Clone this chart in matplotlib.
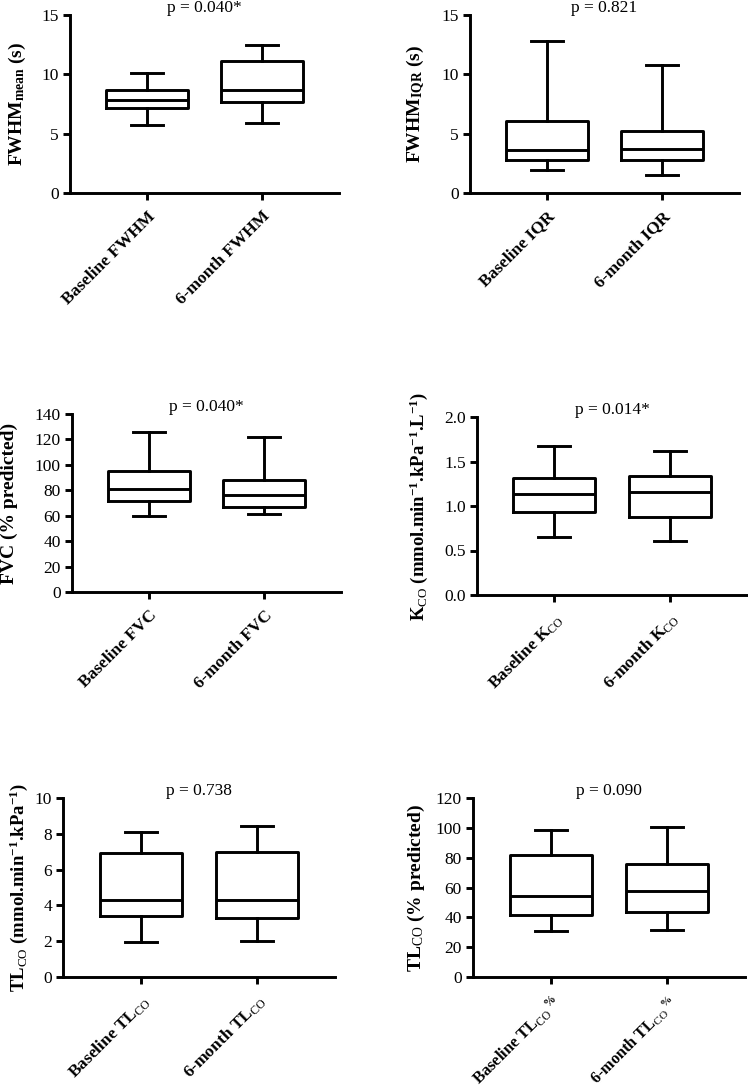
import matplotlib
matplotlib.use('Agg')
import matplotlib.pyplot as plt
from matplotlib.ticker import FormatStrFormatter

plt.rcParams['font.family'] = ['Liberation Serif', 'DejaVu Serif']
plt.rcParams['mathtext.fontset'] = 'custom'
plt.rcParams['mathtext.rm'] = 'Liberation Serif'
plt.rcParams['mathtext.bf'] = 'Liberation Serif:bold'
plt.rcParams['mathtext.it'] = 'Liberation Serif:italic'

# ---------------- data ----------------
fwhm_labels = ['Baseline FWHM', '6-month FWHM']
fwhm_whislo = [5.75, 5.9]
fwhm_q1 = [7.15, 7.65]
fwhm_med = [7.8, 8.7]
fwhm_q3 = [8.7, 11.1]
fwhm_whishi = [10.15, 12.5]
fwhm_p = 'p = 0.040*'

iqr_labels = ['Baseline IQR', '6-month IQR']
iqr_whislo = [1.9, 1.55]
iqr_q1 = [2.75, 2.75]
iqr_med = [3.6, 3.7]
iqr_q3 = [6.1, 5.2]
iqr_whishi = [12.85, 10.75]
iqr_p = 'p = 0.821'

fvc_labels = ['Baseline FVC', '6-month FVC']
fvc_whislo = [60.0, 61.3]
fvc_q1 = [71.7, 66.8]
fvc_med = [80.9, 76.4]
fvc_q3 = [94.8, 88.2]
fvc_whishi = [125.6, 121.7]
fvc_p = 'p = 0.040*'

kco_labels = [r'Baseline K$_{\mathrm{CO}}$', r'6-month K$_{\mathrm{CO}}$']
kco_whislo = [0.647, 0.602]
kco_q1 = [0.935, 0.875]
kco_med = [1.133, 1.155]
kco_q3 = [1.316, 1.335]
kco_whishi = [1.675, 1.622]
kco_p = 'p = 0.014*'

tlco_labels = [r'Baseline TL$_{\mathrm{CO}}$', r'6-month TL$_{\mathrm{CO}}$']
tlco_whislo = [1.97, 1.99]
tlco_q1 = [3.39, 3.28]
tlco_med = [4.32, 4.28]
tlco_q3 = [6.93, 6.97]
tlco_whishi = [8.08, 8.42]
tlco_p = 'p = 0.738'

tlcop_labels = [r'Baseline TL$_{\mathrm{CO}}\,{}^{\mathbf{\%}}$', r'6-month TL$_{\mathrm{CO}}\,{}^{\mathbf{\%}}$']
tlcop_whislo = [31.1, 31.3]
tlcop_q1 = [41.3, 43.4]
tlcop_med = [54.1, 57.4]
tlcop_q3 = [82.0, 75.8]
tlcop_whishi = [98.3, 100.3]
tlcop_p = 'p = 0.090'

ylabel_fwhm = r'FWHM$_{\mathbf{mean}}$ (s)'
ylabel_iqr = r'FWHM$_{\mathbf{IQR}}$ (s)'
ylabel_fvc = 'FVC (% predicted)'
ylabel_kco = r'K$_{\mathrm{CO}}$ (mmol.min$^{\mathbf{-1}}$.kPa$^{\mathbf{-1}}$.L$^{\mathbf{-1}}$)'
ylabel_tlco = r'TL$_{\mathrm{CO}}$ (mmol.min$^{\mathbf{-1}}$.kPa$^{\mathbf{-1}}$)'
ylabel_tlcop = r'TL$_{\mathrm{CO}}$ (% predicted)'

# ---------------- layout ----------------
W, H = 748, 1090
fig = plt.figure(figsize=(W / 100, H / 100), dpi=100)

def rect(l, r, t, b):
    return [l / W, 1 - b / H, (r - l) / W, (b - t) / H]

panels = [
    dict(rect=rect(70, 339, 15, 193), labels=fwhm_labels, lo=fwhm_whislo, q1=fwhm_q1, med=fwhm_med,
         q3=fwhm_q3, hi=fwhm_whishi, p=fwhm_p, ylabel=ylabel_fwhm, ymax=15, step=5, fmt='%d',
         lab_off=53, lab_fs=14),
    dict(rect=rect(470, 739, 15, 193), labels=iqr_labels, lo=iqr_whislo, q1=iqr_q1, med=iqr_med,
         q3=iqr_q3, hi=iqr_whishi, p=iqr_p, ylabel=ylabel_iqr, ymax=15, step=5, fmt='%d',
         lab_off=54, lab_fs=14),
    dict(rect=rect(72, 341, 414, 592), labels=fvc_labels, lo=fvc_whislo, q1=fvc_q1, med=fvc_med,
         q3=fvc_q3, hi=fvc_whishi, p=fvc_p, ylabel=ylabel_fvc, ymax=140, step=20, fmt='%d',
         lab_off=63, lab_fs=14),
    dict(rect=rect(477, 747, 417, 595), labels=kco_labels, lo=kco_whislo, q1=kco_q1, med=kco_med,
         q3=kco_q3, hi=kco_whishi, p=kco_p, ylabel=ylabel_kco, ymax=2.0, step=0.5, fmt='%.1f',
         lab_off=58, lab_fs=13.4),
    dict(rect=rect(63, 335, 798, 977), labels=tlco_labels, lo=tlco_whislo, q1=tlco_q1, med=tlco_med,
         q3=tlco_q3, hi=tlco_whishi, p=tlco_p, ylabel=ylabel_tlco, ymax=10, step=2, fmt='%d',
         lab_off=44, lab_fs=13.5),
    dict(rect=rect(473, 745, 798, 977), labels=tlcop_labels, lo=tlcop_whislo, q1=tlcop_q1, med=tlcop_med,
         q3=tlcop_q3, hi=tlcop_whishi, p=tlcop_p, ylabel=ylabel_tlcop, ymax=120, step=20, fmt='%d',
         lab_off=57, lab_fs=14),
]

LW = 2.1
XT_FS = 12.5
all_ticklabels = []
for pnl in panels:
    ax = fig.add_axes(pnl['rect'])
    stats = []
    for i in range(2):
        stats.append(dict(med=pnl['med'][i], q1=pnl['q1'][i], q3=pnl['q3'][i],
                          whislo=pnl['lo'][i], whishi=pnl['hi'][i], fliers=[]))
    ax.bxp(stats, positions=[1, 2], widths=0.71, capwidths=0.28, showfliers=False,
           boxprops=dict(color='black', linewidth=LW),
           whiskerprops=dict(color='black', linewidth=LW),
           capprops=dict(color='black', linewidth=LW),
           medianprops=dict(color='black', linewidth=LW))
    ax.set_xlim(0.33, 2.67)
    ax.set_ylim(0, pnl['ymax'])
    n = int(round(pnl['ymax'] / pnl['step']))
    ax.set_yticks([pnl['step'] * k for k in range(n + 1)])
    ax.yaxis.set_major_formatter(FormatStrFormatter(pnl['fmt']))
    ax.set_xticks([1, 2])
    tl = ax.set_xticklabels(pnl['labels'], rotation=45, ha='right', rotation_mode='anchor',
                            fontweight='bold', fontsize=XT_FS)
    all_ticklabels.extend(tl)
    for s in ['top', 'right']:
        ax.spines[s].set_visible(False)
    for s in ['left', 'bottom']:
        ax.spines[s].set_linewidth(LW)
    ax.tick_params(axis='both', width=LW, length=5, direction='out', labelsize=12.5, pad=3)
    ax.tick_params(axis='x', pad=6)
    ax.set_ylabel(pnl['ylabel'], fontsize=pnl['lab_fs'], fontweight='bold', va='center')
    ax.yaxis.set_label_coords(-pnl['lab_off'] / (pnl['rect'][2] * W), 0.5)
    ax.text(0.5, 1.04, pnl['p'], transform=ax.transAxes, ha='center', va='center', fontsize=12.5)

# keep rotated tick labels inside the canvas
fig.canvas.draw()
renderer = fig.canvas.get_renderer()
for t in all_ticklabels:
    fs = t.get_fontsize()
    while t.get_window_extent(renderer).y0 < 1 and fs > 8:
        fs -= 0.2
        t.set_fontsize(fs)

fig.savefig('out.png', dpi=100)
